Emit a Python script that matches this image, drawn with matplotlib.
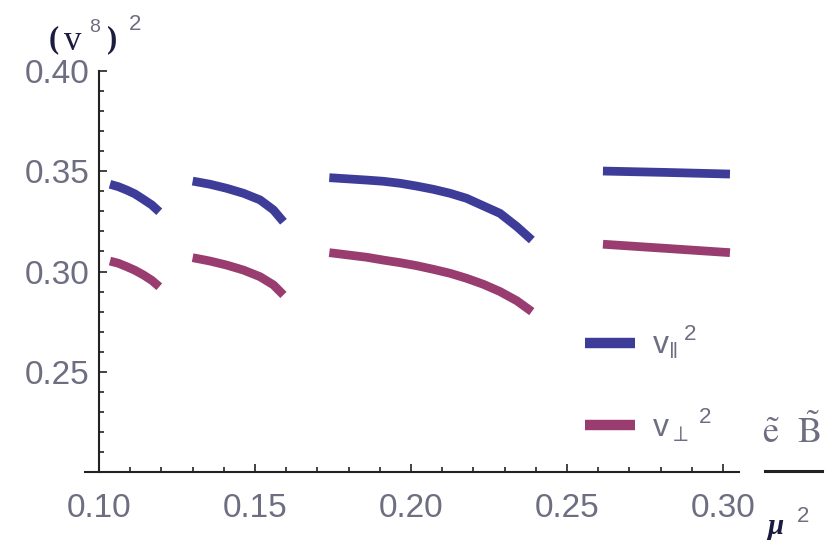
import matplotlib
matplotlib.use("Agg")
import matplotlib.pyplot as plt
from matplotlib.lines import Line2D
from matplotlib.ticker import FixedLocator, FormatStrFormatter, MultipleLocator

# squared sound velocities vs eB/mu^2, one list per branch
branch_x = [
    [0.1035, 0.1062, 0.1089, 0.1115, 0.1142, 0.1169, 0.1193],
    [0.1300, 0.1356, 0.1409, 0.1463, 0.1516, 0.1559, 0.1591],
    [0.1738, 0.1858, 0.1911, 0.1965, 0.2018, 0.2071, 0.2125, 0.2178,
     0.2232, 0.2285, 0.2339, 0.2387],
    [0.2615, 0.2820, 0.3022],
]
v_par_sq = [
    [0.3435, 0.3423, 0.3406, 0.3387, 0.3360, 0.3332, 0.3298],
    [0.3451, 0.3435, 0.3415, 0.3390, 0.3357, 0.3307, 0.3248],
    [0.3468, 0.3456, 0.3450, 0.3440, 0.3426, 0.3410, 0.3390, 0.3365,
     0.3327, 0.3290, 0.3224, 0.3157],
    [0.3501, 0.3494, 0.3486],
]
v_perp_sq = [
    [0.3052, 0.3041, 0.3024, 0.3006, 0.2983, 0.2956, 0.2924],
    [0.3069, 0.3052, 0.3032, 0.3007, 0.2974, 0.2933, 0.2883],
    [0.3094, 0.3071, 0.3057, 0.3044, 0.3029, 0.3011, 0.2991, 0.2966,
     0.2936, 0.2900, 0.2854, 0.2800],
    [0.3136, 0.3115, 0.3094],
]
x_ticks = [0.10, 0.15, 0.20, 0.25, 0.30]
y_ticks = [0.25, 0.30, 0.35, 0.40]

PAR_COLOR = "#3d3d99"
PERP_COLOR = "#993d71"
LABEL_GRAY = "#6e6e82"
DARK = "#1c1c40"
W, H = 831, 544

plt.rcParams["font.family"] = ["Liberation Sans", "DejaVu Sans"]
plt.rcParams["mathtext.fontset"] = "custom"
plt.rcParams["mathtext.rm"] = "Liberation Sans"
plt.rcParams["mathtext.sf"] = "Liberation Sans"

fig = plt.figure(figsize=(W / 100, H / 100), dpi=100)
ax = fig.add_axes([85 / W, 72 / H, 654 / W, 401 / H])
ax.set_xlim(0.0955, 0.3051)
ax.set_ylim(0.20, 0.40)


def px_text(x, y, s, **kw):
    # place text by pixel position measured from the top-left corner
    return fig.text(x / W, 1 - y / H, s, **kw)


line_kw = dict(lw=6.3, solid_capstyle="butt", solid_joinstyle="round", clip_on=False)
for xs, ys in zip(branch_x, v_par_sq):
    ax.plot(xs, ys, color=PAR_COLOR, **line_kw)
for xs, ys in zip(branch_x, v_perp_sq):
    ax.plot(xs, ys, color=PERP_COLOR, **line_kw)

# axes cross at (0.10, 0.20)
for side in ("top", "right"):
    ax.spines[side].set_visible(False)
ax.spines["left"].set_position(("data", 0.10))
ax.spines["left"].set_bounds(0.20, 0.40)
for side in ("left", "bottom"):
    ax.spines[side].set_linewidth(1.5)
    ax.spines[side].set_color("#222222")

ax.xaxis.set_major_locator(FixedLocator(x_ticks))
ax.yaxis.set_major_locator(FixedLocator(y_ticks))
ax.xaxis.set_minor_locator(MultipleLocator(0.01))
ax.yaxis.set_minor_locator(MultipleLocator(0.01))
ax.xaxis.set_major_formatter(FormatStrFormatter("%.2f"))
ax.yaxis.set_major_formatter(FormatStrFormatter("%.2f"))
ax.tick_params(which="both", direction="in", color="#222222", width=1.2,
               labelsize=24, labelcolor=LABEL_GRAY)
ax.tick_params(which="major", length=6)
ax.tick_params(which="minor", length=3.5)
ax.tick_params(axis="x", pad=15)
ax.tick_params(axis="y", pad=7)

# legend
handles = [
    Line2D([], [], color=PAR_COLOR, lw=7.5, solid_capstyle="butt"),
    Line2D([], [], color=PERP_COLOR, lw=7.5, solid_capstyle="butt"),
]
labels = [r"$\mathsf{v}_{\Vert}\,{}^{2}$", r"$\mathsf{v}_{\perp}\,{}^{2}$"]
ax.legend(handles, labels, loc="upper left", bbox_to_anchor=(585 / W, 1 - 324 / H),
          bbox_transform=fig.transFigure, frameon=False, fontsize=23,
          labelcolor=LABEL_GRAY, handlelength=1.55, handletextpad=0.55,
          labelspacing=1.4, borderpad=0, borderaxespad=0)

# y-axis label (v^8)^2
px_text(49, 47, "(", fontsize=22, family="Liberation Serif", weight="bold", color=DARK)
px_text(64, 50, "v", fontsize=25, family="Liberation Serif", color=DARK)
px_text(89, 32, "8", fontsize=14, color=LABEL_GRAY)
px_text(107, 47, ")", fontsize=22, family="Liberation Serif", weight="bold", color=DARK)
px_text(129, 30, "2", fontsize=16, color=LABEL_GRAY)

# x-axis label eB / mu^2
serif_kw = dict(fontsize=26, color=LABEL_GRAY, math_fontfamily="stix")
px_text(762, 443, r"$\tilde{\mathrm{e}}$", **serif_kw)
px_text(797, 443, r"$\tilde{\mathrm{B}}$", **serif_kw)
fig.add_artist(Line2D([765 / W, 822 / W], [1 - 471 / H, 1 - 471 / H],
                      color="#222222", lw=2.2))
px_text(767, 534, "μ", fontsize=21, family="Liberation Serif", weight="bold",
        style="italic", color=DARK)
px_text(797, 522, "2", fontsize=16, color=LABEL_GRAY)

fig.savefig("out.png", dpi=100, facecolor="white")
